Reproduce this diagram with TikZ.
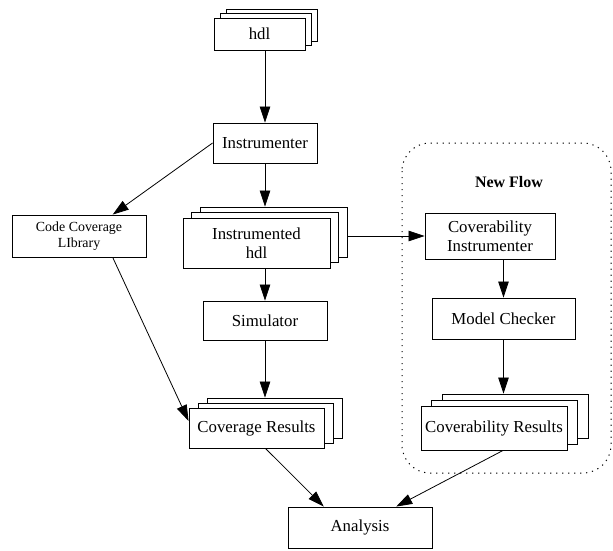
\documentclass[tikz,border=0pt]{standalone}
\usepackage{fontspec}
\setmainfont{Liberation Serif}
\usetikzlibrary{arrows.meta,positioning,shapes,calc,shadows}

\begin{document}
\begin{tikzpicture}[x=1pt,y=-1pt,
    box/.style={draw, fill=white, line width=0.9pt, inner sep=0pt, align=center,
                font=\fontsize{16.8}{19}\selectfont},
    stack/.style 2 args={box,
                copy shadow={shadow xshift=2*#1, shadow yshift=2*#2},
                copy shadow={shadow xshift=#1, shadow yshift=#2}},
    arr/.style={-{Triangle[length=16pt,width=10.5pt]}, line width=0.8pt},
    flowframe/.style={line width=1pt, dash pattern=on 1.2pt off 4.8pt, rounded corners=28pt}]
    \useasboundingbox (0,0) rectangle (613,550);
    % main flow
    \node[stack={6pt}{4.5pt}, minimum width=91, minimum height=32] (hdl) at (259.5,34) {hdl};
    \node[box, minimum width=104, minimum height=40] (instr) at (265,143) {Instrumenter};
    \node[box, minimum width=134, minimum height=42, font=\fontsize{13.9}{16}\selectfont] (ccl) at (79,236) {Code Coverage\\LIbrary};
    \node[stack={8.5pt}{5.5pt}, minimum width=147, minimum height=50] (ihdl) at (256.5,243) {Instrumented\\hdl};
    \node[box, minimum width=124, minimum height=39] (sim) at (265,320.5) {Simulator};
    \node[stack={9pt}{5pt}, minimum width=135, minimum height=40] (covres) at (256.5,428) {Coverage Results};
    \node[box, minimum width=144, minimum height=41] (analysis) at (360,527.5) {Analysis};
    % new flow
    \draw[flowframe] (402,143) rectangle (611,473);
    \node[font=\fontsize{16}{19}\selectfont\bfseries] (nflabel) at (509,182) {New Flow};
    \node[box, minimum width=130, minimum height=46] (covinst) at (490,236) {Coverability\\Instrumenter};
    \node[box, minimum width=143, minimum height=41] (mc) at (503.5,318.5) {Model Checker};
    \node[stack={10.5pt}{6pt}, minimum width=146, minimum height=44] (cvres) at (494,428) {Coverability Results};
    % back layers of the stacks
    \coordinate (ihdltop) at ($(ihdl.north)+(17,-11)$);
    \coordinate (ihdlright) at ($(ihdl.east)+(17,0)$);
    \coordinate (covrestop) at ($(covres.north)+(18,-10)$);
    \coordinate (cvrestop) at ($(cvres.north)+(21,-12)$);
    % arrows
    \draw[arr] (instr.north |- hdl.south) -- (instr.north);
    \draw[arr] (instr.west) -- ($(ccl.north)!0.5!(ccl.north east)$);
    \draw[arr] (instr.south) -- (instr.south |- ihdltop);
    \draw[arr] (covinst.west -| ihdlright) -- (covinst.west);
    \draw[arr] (sim.north |- ihdl.south) -- (sim.north);
    \draw[arr] (sim.south) -- (sim.south |- covrestop);
    \draw[arr] ($(ccl.south)!0.5!(ccl.south east)$) -- ($(covres.west)+(0,-7)$);
    \draw[arr] (covinst.south -| mc.south) -- (mc.north);
    \draw[arr] (mc.south) -- (mc.south |- cvrestop);
    \draw[arr] ($(covres.south)+(9,0)$) -- ($(analysis.north west)!0.5!(analysis.north)$);
    \draw[arr] ($(cvres.south)+(9,0)$) -- ($(analysis.north)!0.5!(analysis.north east)$);
\end{tikzpicture}
\end{document}
